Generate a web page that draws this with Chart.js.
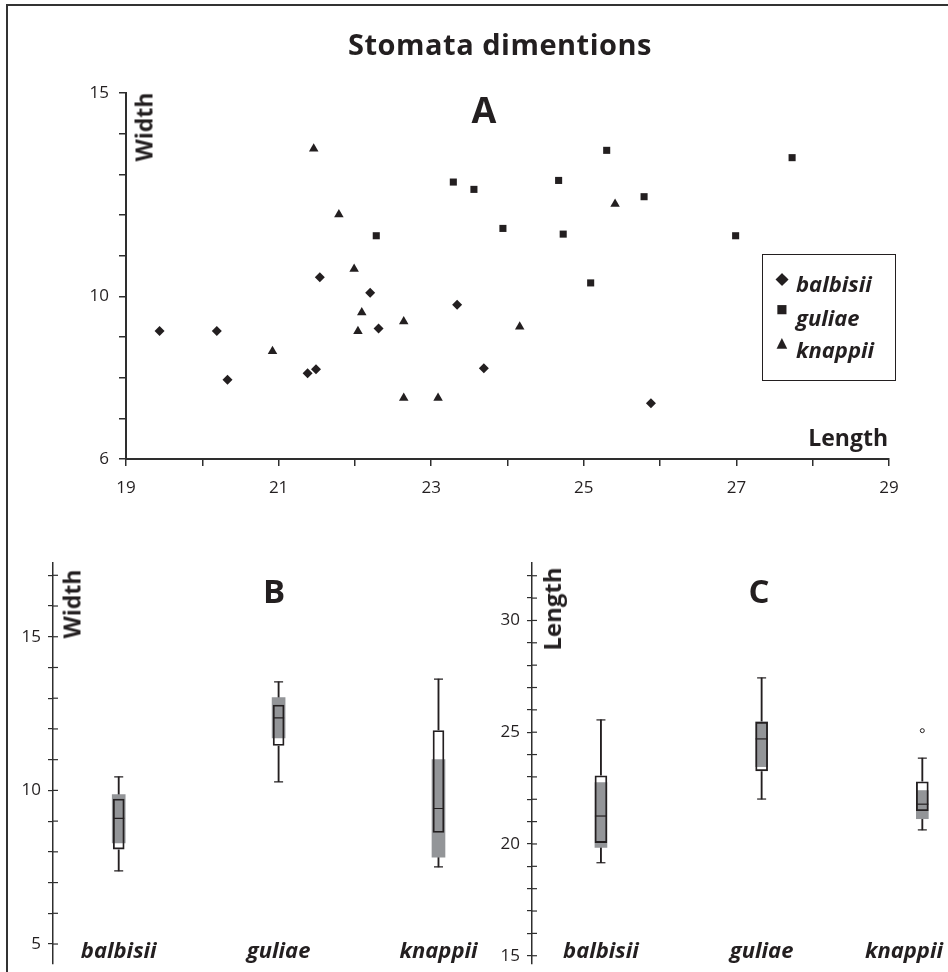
<!DOCTYPE html>
<html>
<head>
<meta charset="utf-8">
<title>Stomata dimentions</title>
<script src="https://cdn.jsdelivr.net/npm/chart.js"></script>
<style>
  html, body { margin: 0; padding: 0; background: #fff; overflow: hidden; }
  #page { position: relative; width: 948px; height: 972px; overflow: hidden; background: #fff;
          font-family: 'Open Sans', sans-serif; color: #231f20; }
  #frame { position: absolute; left: 6px; top: 4px; width: 1000px; height: 1000px;
           border-top: 2px solid #333; border-left: 2px solid #333; }
  canvas { position: absolute; }
  .txt { position: absolute; line-height: 1; white-space: nowrap; font-weight: 700;
         transform: translate(-50%, -50%); }
  .rot { transform: translate(-50%, -50%) rotate(-90deg); }
  #legend { position: absolute; left: 762px; top: 254px; width: 134px; height: 127px;
            box-sizing: border-box; border: 1px solid #231f20; background: #fff; }
  #legend .row { position: absolute; left: 0; height: 30px; line-height: 30px; width: 130px;
                 transform: translateY(-50%); font: italic 700 22px 'Open Sans', sans-serif; }
  #legend .sym { position: absolute; left: 19px; top: 0; transform: translateX(-50%);
                 font-family: 'DejaVu Sans', sans-serif; font-style: normal; }
  #legend .lab { position: absolute; left: 33px; top: 0; }
</style>
</head>
<body>
<div id="page">
  <div id="frame"></div>
  <canvas id="chartA" width="948" height="520" style="left:0;top:0"></canvas>
  <canvas id="chartB" width="485" height="432" style="left:0;top:540px"></canvas>
  <canvas id="chartC" width="463" height="432" style="left:485px;top:540px"></canvas>

  <div class="txt" style="left:500px;top:43px;font-size:29px;letter-spacing:0.5px">Stomata dimentions</div>
  <div class="txt" style="left:484px;top:110px;font-size:36px">A</div>
  <div class="txt" style="left:274px;top:590px;font-size:33px">B</div>
  <div class="txt" style="left:759px;top:590px;font-size:33px">C</div>
  <div class="txt rot" style="left:144px;top:127px;font-size:23px">Width</div>
  <div class="txt" style="left:888px;top:437px;font-size:23px;transform:translate(-100%,-50%)">Length</div>
  <div class="txt rot" style="left:72px;top:604px;font-size:23px">Width</div>
  <div class="txt rot" style="left:552px;top:609px;font-size:24px">Length</div>

  <div id="legend">
    <div class="row" style="top:28px"><span class="sym" style="font-size:17px">◆</span><span class="lab">balbisii</span></div>
    <div class="row" style="top:62px"><span class="sym" style="font-size:12px">■</span><span class="lab">guliae</span></div>
    <div class="row" style="top:94px"><span class="sym" style="font-size:14px">▲</span><span class="lab">knappii</span></div>
  </div>
</div>

<script>
// scatter (panel A): length on x, width on y
const balbisiiLength = [19.44, 20.19, 20.33, 21.38, 21.49, 21.54, 22.20, 22.31, 23.34, 23.69, 25.88];
const balbisiiWidth  = [9.15, 9.15, 7.95, 8.11, 8.21, 10.47, 10.09, 9.21, 9.79, 8.23, 7.37];
const guliaeLength   = [22.28, 23.29, 23.56, 23.94, 24.67, 24.73, 25.09, 25.30, 25.79, 26.99, 27.73];
const guliaeWidth    = [11.49, 12.81, 12.63, 11.67, 12.85, 11.53, 10.33, 13.59, 12.45, 11.49, 13.41];
const knappiiLength  = [20.92, 21.46, 21.79, 21.99, 22.04, 22.09, 22.64, 22.64, 23.09, 24.16, 25.41];
const knappiiWidth   = [8.65, 13.63, 12.01, 10.67, 9.14, 9.60, 9.38, 7.50, 7.50, 9.25, 12.27];

const lengthTicksA = [19, 21, 23, 25, 27, 29];
const widthTicksA = [6, 10, 15];

// box plots (panels B and C)
const species = ['balbisii', 'guliae', 'knappii'];

const widthMin     = [7.38, 10.28, 7.51];
const widthQ1      = [8.09, 11.46, 8.63];
const widthMedian  = [9.09, 12.36, 9.41];
const widthQ3      = [9.72, 12.78, 11.95];
const widthMax     = [10.44, 13.53, 13.62];
const widthBandLow = [8.29, 11.71, 7.83];
const widthBandHigh = [9.86, 13.02, 11.00];
const widthTicksB = [5, 10, 15];

const lengthMin     = [19.16, 22.01, 20.63];
const lengthQ1      = [20.06, 23.27, 21.49];
const lengthMedian  = [21.25, 24.70, 21.78];
const lengthQ3      = [23.05, 25.45, 22.78];
const lengthMax     = [25.55, 27.43, 23.84];
const lengthBandLow = [19.85, 23.46, 21.13];
const lengthBandHigh = [22.75, 25.47, 22.39];
const lengthOutliers = [[], [], [25.07]];
const lengthTicksC = [15, 20, 25, 30];

const ink = '#231f20';
const axisColor = '#2e2e2e';
const gray = '#939598';
const tickFont = { family: "'Open Sans', sans-serif", size: 17 };

const pts = (xs, ys) => xs.map((x, i) => ({ x: x, y: ys[i] }));

new Chart(document.getElementById('chartA'), {
  type: 'scatter',
  data: {
    datasets: [
      { label: 'balbisii', data: pts(balbisiiLength, balbisiiWidth), pointStyle: 'rectRot', pointRadius: 5 },
      { label: 'guliae', data: pts(guliaeLength, guliaeWidth), pointStyle: 'rect', pointRadius: 5 },
      { label: 'knappii', data: pts(knappiiLength, knappiiWidth), pointStyle: 'triangle', pointRadius: 5.5 }
    ].map(d => Object.assign(d, { backgroundColor: ink, borderWidth: 0, pointHoverRadius: d.pointRadius }))
  },
  options: {
    responsive: false,
    animation: false,
    events: [],
    layout: { padding: { top: 93, right: 59, bottom: 0, left: 0 } },
    plugins: { legend: { display: false }, tooltip: { enabled: false } },
    scales: {
      x: {
        type: 'linear', min: 19, max: 29,
        afterFit: s => { s.height = 61; },
        border: { color: axisColor, width: 2 },
        grid: { drawOnChartArea: false, tickLength: 7, color: axisColor, lineWidth: 1.5 },
        ticks: { stepSize: 1, autoSkip: false, maxRotation: 0, padding: 12, color: ink, font: tickFont,
                 callback: v => lengthTicksA.includes(v) ? v : '' }
      },
      y: {
        min: 6, max: 15,
        afterFit: s => { s.width = 126; },
        border: { color: axisColor, width: 2 },
        grid: { drawOnChartArea: false, tickLength: 7, color: axisColor, lineWidth: 1.5 },
        ticks: { stepSize: 1, autoSkip: false, padding: 10, color: ink, font: tickFont,
                 callback: v => widthTicksA.includes(v) ? v : '' }
      }
    }
  }
});

// small marks on the inner side of the y axis, so the ticks cross it
const crossTicks = {
  id: 'crossTicks',
  afterDraw(chart) {
    const { ctx, chartArea, scales: { y } } = chart;
    ctx.save();
    ctx.strokeStyle = axisColor;
    ctx.lineWidth = 1.2;
    y.ticks.forEach(t => {
      const py = y.getPixelForValue(t.value);
      ctx.beginPath();
      ctx.moveTo(chartArea.left, py);
      ctx.lineTo(chartArea.left + 5, py);
      ctx.stroke();
    });
    ctx.restore();
  }
};

const categoryNames = {
  id: 'categoryNames',
  afterDraw(chart, args, opts) {
    const { ctx, scales: { x } } = chart;
    ctx.save();
    ctx.font = "italic 700 22px 'Open Sans', sans-serif";
    ctx.fillStyle = ink;
    ctx.textAlign = 'center';
    ctx.textBaseline = 'alphabetic';
    species.forEach((name, i) => {
      const half = ctx.measureText(name).width / 2;
      const cx = Math.min(x.getPixelForValue(i + 1), chart.width - 5 - half);
      ctx.fillText(name, cx, opts.baseline);
    });
    ctx.restore();
  }
};

function boxChart(id, s) {
  const at = vals => vals.map((v, i) => ({ x: i + 1, y: v }));
  const span = (lo, hi) => lo.map((v, i) => ({ x: i + 1, y: [v, hi[i]] }));
  const lineMark = (data, r, order) => ({
    type: 'line', data: data, showLine: false, pointStyle: 'line', pointRadius: r, pointHoverRadius: r,
    pointBorderColor: ink, pointBorderWidth: 1.2, order: order
  });
  const datasets = [
    { type: 'bar', data: span(s.min, s.max), barThickness: 1.2, backgroundColor: ink, grouped: false, order: 6 },
    { type: 'bar', data: span(s.q1, s.q3), barThickness: s.boxW, backgroundColor: '#fff', grouped: false, order: 5 },
    { type: 'bar', data: span(s.bandLow, s.bandHigh), barThickness: s.bandW, backgroundColor: gray, grouped: false, order: 4 },
    { type: 'bar', data: span(s.q1, s.q3), barThickness: s.boxW, backgroundColor: 'rgba(0,0,0,0)',
      borderColor: ink, borderWidth: 1.2, borderSkipped: false, grouped: false, order: 3 },
    lineMark(at(s.median), s.boxW / 2, 2),
    lineMark(at(s.min).concat(at(s.max)), 4.5, 2)
  ];
  if (s.outliers) {
    const out = [];
    s.outliers.forEach((list, i) => list.forEach(v => out.push({ x: i + 1, y: v })));
    datasets.push({ type: 'line', data: out, showLine: false, pointStyle: 'circle', pointRadius: 2,
      pointHoverRadius: 2, pointBackgroundColor: '#fff', pointBorderColor: ink, pointBorderWidth: 1, order: 1 });
  }
  new Chart(document.getElementById(id), {
    type: 'bar',
    data: { datasets: datasets },
    plugins: [crossTicks, categoryNames],
    options: {
      responsive: false,
      animation: false,
      events: [],
      layout: { padding: s.padding },
      plugins: { legend: { display: false }, tooltip: { enabled: false }, categoryNames: { baseline: 418 } },
      scales: {
        x: { type: 'linear', display: false, offset: false, min: s.xMin, max: s.xMax },
        y: {
          min: s.yMin, max: s.yMax,
          afterFit: sc => { sc.width = s.axisLeft; sc.paddingTop = 0; sc.paddingBottom = 0; },
          border: { color: axisColor, width: 1.5 },
          grid: { drawOnChartArea: false, tickLength: 5, color: axisColor, lineWidth: 1.2 },
          ticks: { stepSize: 1, autoSkip: false, includeBounds: false, padding: 7, color: ink, font: tickFont,
                   callback: v => s.labels.includes(v) ? v : '' }
        }
      }
    }
  });
}

boxChart('chartB', {
  min: widthMin, q1: widthQ1, median: widthMedian, q3: widthQ3, max: widthMax,
  bandLow: widthBandLow, bandHigh: widthBandHigh, labels: widthTicksB,
  boxW: 11, bandW: 13, xMin: 0.589, xMax: 3.249, yMin: 4.35, yMax: 17.4,
  axisLeft: 53, padding: { top: 23, right: 5, bottom: 8, left: 0 }
});

boxChart('chartC', {
  min: lengthMin, q1: lengthQ1, median: lengthMedian, q3: lengthQ3, max: lengthMax,
  bandLow: lengthBandLow, bandHigh: lengthBandHigh, outliers: lengthOutliers, labels: lengthTicksC,
  boxW: 12, bandW: 12, xMin: 0.571, xMax: 3.11, yMin: 14.63, yMax: 32.57,
  axisLeft: 47, padding: { top: 23, right: 8, bottom: 8, left: 0 }
});
</script>
</body>
</html>
